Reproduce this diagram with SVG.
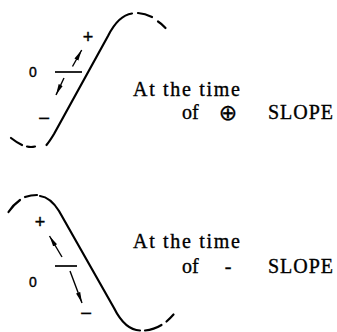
<svg xmlns="http://www.w3.org/2000/svg" width="337" height="332" viewBox="0 0 337 332">
<style>
.curve{fill:none;stroke:#000;stroke-width:2.2;stroke-linecap:round;stroke-linejoin:round}
.arrow{fill:none;stroke:#000;stroke-width:1.4;marker-end:url(#head)}
.tick{stroke:#000;stroke-width:1.7}
.lbl{font-family:"Liberation Serif","Times New Roman",serif;font-size:20px;fill:#000;stroke:#000;stroke-width:0.35}
.sym{font-family:"Liberation Sans",Arial,sans-serif;fill:#000;stroke:#000;stroke-width:0.4}
</style>
<defs>
<marker id="head" markerUnits="userSpaceOnUse" markerWidth="12" markerHeight="6" refX="11" refY="2.5" orient="auto">
<path d="M0,0.3 L11,2.5 L0,4.7 z" fill="#000"/>
</marker>
</defs>
<rect width="337" height="332" fill="#fff"/>
<g id="positive-slope">
<g id="curve-pos">
<path class="curve" d="M11,138 Q16,142 22,145"/>
<path class="curve" d="M27,146.5 Q31,147.5 35,146.5"/>
<path class="curve" d="M46.5,145 C49,142 51,139 54,134 L108,36 C114,24 121,15 132,13.5"/>
<path class="curve" d="M138,13 Q145,13.5 152,17"/>
<path class="curve" d="M158,21.5 Q162,24 165.5,28"/>
</g>
<g id="marks-pos">
<line class="tick" x1="55" y1="72" x2="82" y2="72"/>
<text class="sym" x="33" y="77" font-size="14" text-anchor="middle">0</text>
<text class="sym" x="88" y="43" font-size="18" text-anchor="middle">+</text>
<text class="sym" x="44" y="125" font-size="20" text-anchor="middle">−</text>
</g>
<g id="arrows-pos">
<line class="arrow" x1="72.5" y1="66.5" x2="81.7" y2="50"/>
<line class="arrow" x1="64" y1="78" x2="56" y2="95"/>
</g>
<g id="label-pos">
<text class="lbl" x="133" y="96" textLength="107" lengthAdjust="spacing">At the time</text>
<text class="lbl" x="182" y="119">of</text>
<text x="228" y="119.5" text-anchor="middle" font-family="DejaVu Sans,sans-serif" font-size="22" fill="#000" stroke="#000" stroke-width="0.3">⊕</text>
<text class="lbl" x="268" y="119" textLength="65" lengthAdjust="spacing">SLOPE</text>
</g>
</g>
<g id="negative-slope">
<g id="curve-neg">
<path class="curve" d="M8.5,212 Q13,205 20,200"/>
<path class="curve" d="M25,197 Q31,195 37,195"/>
<path class="curve" d="M40,196 C48,197 54,203 59,211 L114,308 C119,318 127,330 140,330.5"/>
<path class="curve" d="M145,330.5 Q154,329.5 161.5,325"/>
<path class="curve" d="M166.5,321.5 Q170,318.5 173.5,314.5"/>
</g>
<g id="marks-neg">
<line class="tick" x1="55" y1="266" x2="77" y2="266"/>
<text class="sym" x="33" y="287" font-size="14" text-anchor="middle">0</text>
<text class="sym" x="40" y="228" font-size="18" text-anchor="middle">+</text>
<text class="sym" x="86" y="320" font-size="20" text-anchor="middle">−</text>
</g>
<g id="arrows-neg">
<line class="arrow" x1="62" y1="257" x2="49.5" y2="236"/>
<line class="arrow" x1="70" y1="271" x2="82" y2="303"/>
</g>
<g id="label-neg">
<text class="lbl" x="133" y="248" textLength="107" lengthAdjust="spacing">At the time</text>
<text class="lbl" x="182" y="273">of</text>
<text class="lbl" x="228" y="273" text-anchor="middle">-</text>
<text class="lbl" x="268" y="273" textLength="65" lengthAdjust="spacing">SLOPE</text>
</g>
</g>
</svg>
